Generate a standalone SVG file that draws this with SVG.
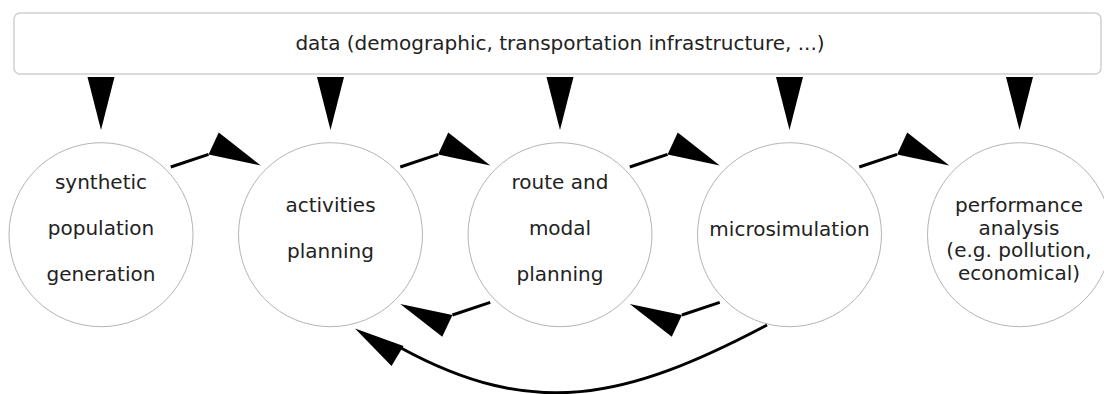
<svg xmlns="http://www.w3.org/2000/svg" width="1104" height="394" viewBox="0 0 1104 394">
<style>
.node circle{fill:#fff;stroke:#b4b4b4;stroke-width:1}
.box{fill:#fff;stroke:#cfcfcf;stroke-width:1.5}
text{font-family:"DejaVu Sans",Verdana,sans-serif;font-size:20px;fill:#222;text-anchor:middle}
.ln{fill:none;stroke:#000;stroke-width:3}
.hd{fill:#000;stroke:none}
</style>
<defs>
<g id="fwd">
<path class="ln" d="M-45,167 L-7.2,154.4"/>
<polygon class="hd" points="-7.2,154.4 3,132.6 45,165.5"/>
</g>
<polygon id="down" class="hd" points="-13.5,77 13.5,77 0,130"/>
</defs>
<g id="data">
<rect class="box" x="14" y="13" width="1087" height="61" rx="6"/>
<text x="560" y="50">data (demographic, transportation infrastructure, ...)</text>
</g>
<g id="n1" class="node">
<circle cx="101" cy="234.7" r="92"/>
<text x="101" y="189">synthetic</text>
<text x="101" y="235">population</text>
<text x="101" y="281">generation</text>
</g>
<g id="n2" class="node">
<circle cx="330.5" cy="234.7" r="92"/>
<text x="330.5" y="212">activities</text>
<text x="330.5" y="258">planning</text>
</g>
<g id="n3" class="node">
<circle cx="560" cy="234.7" r="92"/>
<text x="560" y="189">route and</text>
<text x="560" y="235">modal</text>
<text x="560" y="281">planning</text>
</g>
<g id="n4" class="node">
<circle cx="789.5" cy="234.7" r="92"/>
<text x="789.5" y="236">microsimulation</text>
</g>
<g id="n5" class="node">
<circle cx="1019.5" cy="234.7" r="92"/>
<text x="1019" y="212">performance</text>
<text x="1019" y="234.7">analysis</text>
<text x="1019" y="257.3">(e.g. pollution,</text>
<text x="1019" y="280">economical)</text>
</g>
<g id="connectors">
<use href="#down" transform="translate(101,0)"/>
<use href="#down" transform="translate(330.5,0)"/>
<use href="#down" transform="translate(560,0)"/>
<use href="#down" transform="translate(789.5,0)"/>
<use href="#down" transform="translate(1019.5,0)"/>
<use href="#fwd" transform="translate(215.75,0)"/>
<use href="#fwd" transform="translate(445.25,0)"/>
<use href="#fwd" transform="translate(674.75,0)"/>
<use href="#fwd" transform="translate(904.25,0)"/>
<use href="#fwd" transform="rotate(180 445.25 234.7) translate(445.25,0)"/>
<use href="#fwd" transform="rotate(180 674.75 234.7) translate(674.75,0)"/>
<path class="ln" d="M767,325 C625,400 533,420 401,348"/>
<polygon class="hd" points="355,328.5 403.5,346 391.5,366"/>
</g>
</svg>
